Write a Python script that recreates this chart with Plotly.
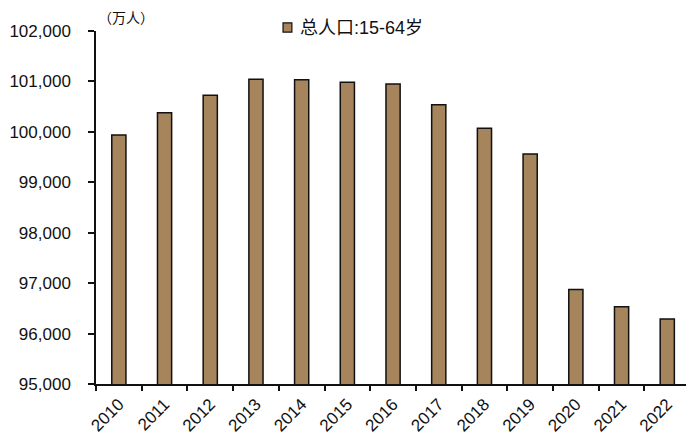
import plotly.graph_objects as go

# 15-64岁人口（万人）
years = ["2010", "2011", "2012", "2013", "2014", "2015", "2016",
         "2017", "2018", "2019", "2020", "2021", "2022"]
pop_15_64 = [99940, 100380, 100725, 101045, 101035, 100985, 100950,
             100540, 100070, 99560, 96875, 96530, 96290]
y_ticks = [95000, 96000, 97000, 98000, 99000, 100000, 101000, 102000]
y_tick_text = [f"{v:,}" for v in y_ticks]
series_name = "总人口:15-64岁"

bar_color = "#A6845C"
edge_color = "#111111"
axis_font = dict(family="Liberation Sans, Arial, sans-serif", size=17, color=edge_color)

fig = go.Figure()
fig.add_trace(go.Bar(
    x=years,
    y=pop_15_64,
    name=series_name,
    marker=dict(color=bar_color, line=dict(color=edge_color, width=1.5)),
    width=0.31,
))

# compact legend key: small swatch plus label above the plot area
legend_key = dict(
    type="rect", xref="paper", yref="paper",
    x0=0.317, x1=0.332, y0=0.997, y1=1.023,
    fillcolor=bar_color, line=dict(color=edge_color, width=1.2),
)

fig.update_layout(
    width=686,
    height=437,
    margin=dict(l=96, r=0, t=31, b=53),
    paper_bgcolor="white",
    plot_bgcolor="white",
    showlegend=False,
    shapes=[legend_key],
    xaxis=dict(
        type="category",
        range=[-0.5, 12.41],
        automargin=False,
        showline=True, linecolor=edge_color, linewidth=1.5,
        ticks="outside", ticklen=5, tickwidth=1.5, tickcolor=edge_color,
        tickson="boundaries",
        tickangle=-45,
        ticklabelstandoff=2,
        tickfont=axis_font,
        showgrid=False,
    ),
    yaxis=dict(
        range=[95000, 102000],
        automargin=False,
        tickvals=y_ticks,
        ticktext=y_tick_text,
        showline=True, linecolor=edge_color, linewidth=1.5,
        ticks="outside", ticklen=6, tickwidth=1.5, tickcolor=edge_color,
        ticklabelstandoff=14,
        tickfont=axis_font,
        showgrid=False,
        zeroline=False,
    ),
    annotations=[
        dict(
            text="（万人）",
            xref="paper", yref="paper",
            x=0.0, y=1.0, xanchor="left", yanchor="bottom",
            xshift=0, yshift=2,
            showarrow=False,
            font=dict(family="Noto Sans CJK SC, sans-serif", size=14, color=edge_color),
        ),
        dict(
            text=series_name,
            xref="paper", yref="paper",
            x=0.342, y=1.009, xanchor="left", yanchor="middle",
            showarrow=False,
            font=dict(family="Liberation Sans, Noto Sans CJK SC, sans-serif", size=18, color=edge_color),
        ),
    ],
)

fig.write_html("out.html")
